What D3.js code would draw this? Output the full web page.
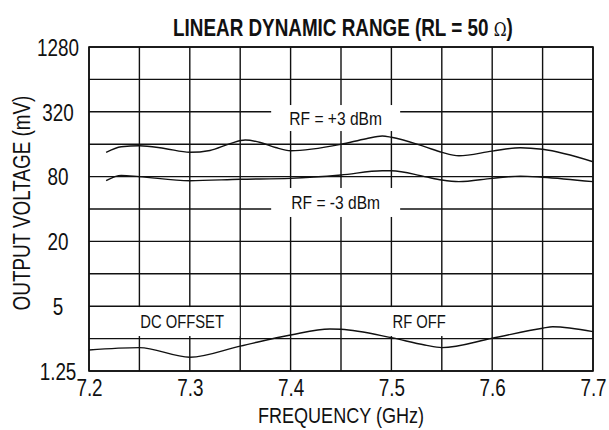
<!DOCTYPE html>
<html>
<head>
<meta charset="utf-8">
<script src="https://cdn.jsdelivr.net/npm/d3@7"></script>
<style>
    body { margin: 0; background: #fff; }
    text { font-family: "Liberation Sans", Arial, sans-serif; fill: #111; }
</style>
</head>
<body>
<svg id="chart"></svg>
<script>
// frequency in GHz, voltages in mV
const rfHighFreq = [7.217, 7.232, 7.25, 7.275, 7.30, 7.32, 7.34, 7.355, 7.37, 7.385, 7.40, 7.45, 7.475, 7.491, 7.50, 7.533, 7.55, 7.567, 7.60, 7.628, 7.65, 7.70];
const rfHighMv   = [134.5, 151.7, 155, 146, 134.5, 140, 162, 175, 166, 149, 139, 159.6, 180, 190.6, 185.5, 151.7, 134.5, 125, 138, 148.5, 143.5, 110];

const rfLowFreq = [7.217, 7.232, 7.25, 7.30, 7.35, 7.40, 7.45, 7.491, 7.50, 7.533, 7.55, 7.567, 7.60, 7.628, 7.65, 7.70];
const rfLowMv   = [73.3, 82.2, 80, 73.3, 75.5, 77.1, 82.8, 90.7, 90.7, 80, 74.3, 71.8, 77.1, 80.9, 79, 71.8];

const dcFreq = [7.20, 7.25, 7.30, 7.35, 7.40, 7.439, 7.45, 7.50, 7.533, 7.55, 7.60, 7.65, 7.66, 7.70];
const dcMv   = [1.96, 2.06, 1.68, 2.13, 2.70, 3.07, 3.05, 2.55, 2.18, 2.06, 2.52, 3.12, 3.22, 2.90];

const xTicks = [7.2, 7.3, 7.4, 7.5, 7.6, 7.7];
const yTicks = [1.25, 5, 20, 80, 320, 1280];

// label text, where it sits (freq, mV) and its white box size
const labelText = ['RF = +3 dBm', 'RF = -3 dBm', 'DC OFFSET', 'RF OFF'];
const labelFreq = [7.4447, 7.4447, 7.2924, 7.5276];
const labelMv   = [280, 46, 3.6, 3.6];
const labelBoxW = [129, 129, 115, 67];
const labelBoxH = [26, 29, 29, 29];
const labelSize = [19, 19, 18, 18];

const config = {
    containerWidth: 609,
    containerHeight: 430,
    margin: { top: 47, bottom: 59, right: 16, left: 89 },
    squeeze: 0.82   // no condensed font installed, so squash the glyphs
};

let width = config.containerWidth - config.margin.left - config.margin.right;
let height = config.containerHeight - config.margin.top - config.margin.bottom;

let svg = d3.select('#chart')
    .attr('width', config.containerWidth)
    .attr('height', config.containerHeight);

let chart = svg.append('g')
    .attr('transform', `translate(${config.margin.left},${config.margin.top})`);

let xScale = d3.scaleLinear()
    .domain([7.2, 7.7])
    .range([0, width]);

// log 2 scale, every grid line is a factor of 2
let yScale = d3.scaleLog()
    .base(2)
    .domain([1.25, 1280])
    .range([height, 0]);

// grid lines
let xGrid = d3.range(0, 11).map(i => 7.2 + i * 0.05);
let yGrid = d3.range(0, 11).map(i => 1.25 * Math.pow(2, i));

chart.selectAll('.vgrid')
    .data(xGrid)
    .join('line')
    .attr('class', 'vgrid')
    .attr('x1', d => xScale(d)).attr('x2', d => xScale(d))
    .attr('y1', 0).attr('y2', height)
    .attr('stroke', '#111')
    .attr('stroke-width', 1.4);

chart.selectAll('.hgrid')
    .data(yGrid)
    .join('line')
    .attr('class', 'hgrid')
    .attr('x1', 0).attr('x2', width)
    .attr('y1', d => yScale(d)).attr('y2', d => yScale(d))
    .attr('stroke', '#111')
    .attr('stroke-width', 1.4);

// white boxes behind the labels
let labels = labelText.map((t, i) => ({
    text: t, f: labelFreq[i], v: labelMv[i], w: labelBoxW[i], h: labelBoxH[i], size: labelSize[i]
}));

chart.selectAll('.labelbox')
    .data(labels)
    .join('rect')
    .attr('class', 'labelbox')
    .attr('x', d => xScale(d.f) - d.w / 2)
    .attr('y', d => yScale(d.v) - d.h / 2)
    .attr('width', d => d.w)
    .attr('height', d => d.h)
    .attr('fill', '#fff');

chart.selectAll('.labeltext')
    .data(labels)
    .join('text')
    .attr('class', 'labeltext squash')
    .attr('x', d => xScale(d.f))
    .attr('y', d => yScale(d.v))
    .attr('dy', '0.36em')
    .attr('text-anchor', 'middle')
    .style('font-size', d => d.size + 'px')
    .text(d => d.text);

// curves
let line = d3.line()
    .x(d => xScale(d[0]))
    .y(d => yScale(d[1]))
    .curve(d3.curveMonotoneX);

let series = [
    d3.zip(rfHighFreq, rfHighMv),
    d3.zip(rfLowFreq, rfLowMv),
    d3.zip(dcFreq, dcMv)
];

chart.selectAll('.curve')
    .data(series)
    .join('path')
    .attr('class', 'curve')
    .attr('fill', 'none')
    .attr('stroke', '#111')
    .attr('stroke-width', 1.4)
    .attr('d', line);

// frame
chart.append('rect')
    .attr('width', width)
    .attr('height', height)
    .attr('fill', 'none')
    .attr('stroke', '#111')
    .attr('stroke-width', 1.6);

// axes, no tick marks, just the labels
let xAxisG = chart.append('g')
    .attr('transform', `translate(0,${height})`)
    .call(d3.axisBottom(xScale).tickValues(xTicks).tickSize(0).tickPadding(9).tickFormat(d3.format('.1f')));

let yAxisG = chart.append('g')
    .call(d3.axisLeft(yScale).tickValues(yTicks).tickSize(0).tickFormat(d => d));

xAxisG.select('.domain').remove();
yAxisG.select('.domain').remove();

xAxisG.selectAll('text')
    .attr('class', 'squash')
    .style('font-size', '23px')
    .style('font-family', '"Liberation Sans", Arial, sans-serif')
    .attr('fill', '#111');

yAxisG.selectAll('text')
    .attr('class', 'squash')
    .attr('x', -31)
    .attr('dy', '0.36em')
    .attr('text-anchor', 'middle')
    .style('font-size', '23px')
    .style('font-family', '"Liberation Sans", Arial, sans-serif')
    .attr('fill', '#111');

// title: squashed with a transform because of the omega tspan
let title = svg.append('text')
    .attr('transform', `translate(343,36) scale(${config.squeeze},1)`)
    .attr('text-anchor', 'middle')
    .style('font-size', '23px')
    .style('font-weight', 'bold');
title.append('tspan').text('LINEAR DYNAMIC RANGE (RL = 50 ');
title.append('tspan')
    .style('font-family', '"DejaVu Serif", "Liberation Serif", serif')
    .style('font-weight', 'normal')
    .style('font-size', '19px')
    .text('Ω');
title.append('tspan').text(')');

svg.append('text')
    .attr('class', 'squash')
    .attr('x', config.margin.left + width / 2)
    .attr('y', 423)
    .attr('text-anchor', 'middle')
    .style('font-size', '22px')
    .text('FREQUENCY (GHz)');

svg.append('text')
    .attr('class', 'squash')
    .attr('transform', 'translate(30,203) rotate(-90)')
    .attr('text-anchor', 'middle')
    .style('font-size', '23px')
    .text('OUTPUT VOLTAGE (mV)');

// squash the plain texts to look like the condensed face in the original
svg.selectAll('text.squash').each(function () {
    let len = this.getComputedTextLength();
    d3.select(this)
        .attr('textLength', len * config.squeeze)
        .attr('lengthAdjust', 'spacingAndGlyphs');
});
</script>
</body>
</html>
